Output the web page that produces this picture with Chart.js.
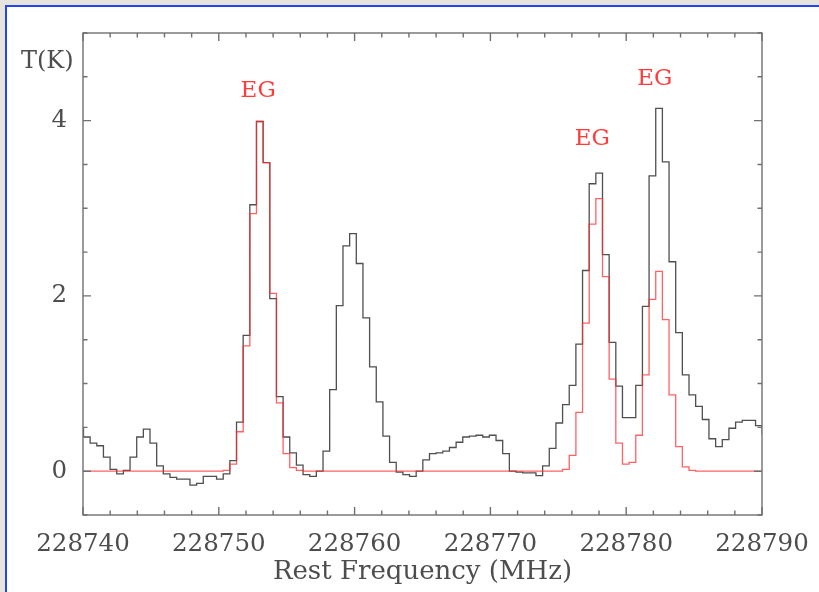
<!DOCTYPE html>
<html>
<head>
<meta charset="utf-8">
<script src="https://cdn.jsdelivr.net/npm/chart.js@4/dist/chart.umd.min.js"></script>
<style>
  html, body { margin: 0; padding: 0; width: 819px; height: 592px; overflow: hidden; background: #e7e3dd; }
  #panel { position: absolute; left: 5px; top: 5px; width: 900px; height: 700px; border: 2px solid #2645f2; background: #ffffff; }
  #wrap { position: absolute; left: 0; top: 0; width: 819px; height: 592px; }
</style>
</head>
<body>
<div id="panel"></div>
<div id="wrap"><canvas id="c" width="819" height="592"></canvas></div>
<script>
// Channel centre frequencies (MHz)
const channelFreq = [
  228739.79, 228740.28, 228740.77, 228741.26, 228741.75, 228742.24, 228742.73, 228743.22, 228743.71, 228744.20,
  228744.69, 228745.18, 228745.67, 228746.16, 228746.65, 228747.14, 228747.63, 228748.12, 228748.61, 228749.10,
  228749.59, 228750.08, 228750.57, 228751.06, 228751.55, 228752.04, 228752.53, 228753.02, 228753.51, 228754.00,
  228754.49, 228754.98, 228755.47, 228755.96, 228756.45, 228756.94, 228757.43, 228757.92, 228758.41, 228758.90,
  228759.39, 228759.88, 228760.37, 228760.86, 228761.35, 228761.84, 228762.33, 228762.82, 228763.31, 228763.80,
  228764.29, 228764.78, 228765.27, 228765.76, 228766.25, 228766.74, 228767.23, 228767.72, 228768.21, 228768.70,
  228769.19, 228769.68, 228770.17, 228770.66, 228771.15, 228771.64, 228772.13, 228772.62, 228773.11, 228773.60,
  228774.09, 228774.58, 228775.07, 228775.56, 228776.05, 228776.54, 228777.03, 228777.52, 228778.01, 228778.50,
  228778.99, 228779.48, 228779.97, 228780.46, 228780.95, 228781.44, 228781.93, 228782.42, 228782.91, 228783.40,
  228783.89, 228784.38, 228784.87, 228785.36, 228785.85, 228786.34, 228786.83, 228787.32, 228787.81, 228788.30,
  228788.79, 228789.28, 228789.77, 228790.26
];

// Observed spectrum T (K)
const observedT = [
  0.49, 0.39, 0.32, 0.29, 0.16, 0.02, -0.03, 0.01, 0.16, 0.39,
  0.48, 0.32, 0.06, -0.03, -0.07, -0.09, -0.09, -0.16, -0.14, -0.06,
  -0.06, -0.09, -0.03, 0.12, 0.56, 1.55, 3.04, 3.99, 3.52, 1.97,
  0.85, 0.39, 0.21, 0.07, -0.04, -0.06, 0.00, 0.23, 0.93, 1.89,
  2.57, 2.71, 2.37, 1.75, 1.19, 0.79, 0.40, 0.10, -0.01, -0.04,
  -0.06, 0.00, 0.13, 0.20, 0.21, 0.23, 0.27, 0.33, 0.39, 0.40,
  0.41, 0.39, 0.41, 0.35, 0.20, 0.00, -0.01, -0.02, -0.02, -0.05,
  0.06, 0.26, 0.55, 0.76, 0.98, 1.45, 2.29, 3.28, 3.40, 2.47,
  1.47, 0.97, 0.61, 0.61, 0.98, 1.88, 3.37, 4.14, 3.53, 2.39,
  1.58, 1.10, 0.87, 0.74, 0.59, 0.37, 0.28, 0.36, 0.49, 0.56,
  0.58, 0.58, 0.52, 0.43
];

// Model spectrum (EG) T (K)
const modelT = [
  0.00, 0.00, 0.00, 0.00, 0.00, 0.00, 0.00, 0.00, 0.00, 0.00,
  0.00, 0.00, 0.00, 0.00, 0.00, 0.00, 0.00, 0.00, 0.00, 0.00,
  0.00, 0.00, 0.01, 0.08, 0.45, 1.43, 2.94, 3.99, 3.52, 2.03,
  0.78, 0.20, 0.04, 0.01, 0.00, 0.00, 0.00, 0.00, 0.00, 0.00,
  0.00, 0.00, 0.00, 0.00, 0.00, 0.00, 0.00, 0.00, 0.00, 0.00,
  0.00, 0.00, 0.00, 0.00, 0.00, 0.00, 0.00, 0.00, 0.00, 0.00,
  0.00, 0.00, 0.00, 0.00, 0.00, 0.00, 0.00, 0.00, 0.00, 0.00,
  0.00, 0.00, 0.00, 0.02, 0.18, 0.67, 1.69, 2.82, 3.11, 2.22,
  1.05, 0.32, 0.08, 0.10, 0.41, 1.10, 1.96, 2.28, 1.73, 0.87,
  0.28, 0.05, 0.01, 0.00, 0.00, 0.00, 0.00, 0.00, 0.00, 0.00,
  0.00, 0.00, 0.00, 0.00
];

// Line labels
const lineLabels = ["EG", "EG", "EG"];
const lineLabelFreq = [228752.9, 228777.5, 228782.1];
const lineLabelT = [4.34, 3.79, 4.48];

// Axis tick labels
const xTickLabels = [228740, 228750, 228760, 228770, 228780, 228790];
const yTickLabels = [0, 2, 4];

const serif = '"DejaVu Serif", "Liberation Serif", serif';
const textColor = '#4d4d4d';

const framePlugin = {
  id: 'framePlugin',
  afterDraw(chart) {
    const ctx = chart.ctx;
    const xs = chart.scales.x, ys = chart.scales.y;
    const a = chart.chartArea;
    ctx.save();
    ctx.strokeStyle = '#707070';
    ctx.lineWidth = 1.4;
    ctx.strokeRect(a.left, a.top, a.right - a.left, a.bottom - a.top);
    ctx.beginPath();
    for (let v = 228740; v <= 228790; v += 2) {
      const px = xs.getPixelForValue(v);
      const len = xTickLabels.includes(v) ? 8 : 4.5;
      ctx.moveTo(px, a.bottom); ctx.lineTo(px, a.bottom - len);
      ctx.moveTo(px, a.top); ctx.lineTo(px, a.top + len);
    }
    for (let i = -1; i <= 10; i++) {
      const v = i * 0.5;
      const py = ys.getPixelForValue(v);
      const len = yTickLabels.includes(v) ? 8 : 4.5;
      ctx.moveTo(a.left, py); ctx.lineTo(a.left + len, py);
      ctx.moveTo(a.right, py); ctx.lineTo(a.right - len, py);
    }
    ctx.stroke();

    ctx.fillStyle = '#ff3b3b';
    ctx.font = '23px ' + serif;
    ctx.textAlign = 'center';
    ctx.textBaseline = 'middle';
    for (let i = 0; i < lineLabels.length; i++) {
      ctx.fillText(lineLabels[i], xs.getPixelForValue(lineLabelFreq[i]), ys.getPixelForValue(lineLabelT[i]));
    }

    ctx.fillStyle = textColor;
    ctx.font = '24px ' + serif;
    ctx.textAlign = 'left';
    ctx.fillText('T(K)', 21, 62);
    ctx.restore();
  }
};

const points = (arr) => channelFreq.map((f, i) => ({ x: f, y: arr[i] }));

new Chart(document.getElementById('c'), {
  type: 'line',
  data: {
    datasets: [
      {
        label: 'Model EG',
        data: points(modelT),
        borderColor: 'rgba(255, 45, 45, 0.75)',
        borderWidth: 1.3,
        stepped: 'middle',
        pointRadius: 0,
        fill: false,
        order: 0
      },
      {
        label: 'Observed',
        data: points(observedT),
        borderColor: 'rgba(40, 40, 40, 0.82)',
        borderWidth: 1.3,
        stepped: 'middle',
        pointRadius: 0,
        fill: false,
        order: 1
      }
    ]
  },
  options: {
    responsive: false,
    animation: false,
    devicePixelRatio: 1,
    layout: { padding: { top: 33, right: 57, left: 0, bottom: 0 } },
    plugins: { legend: { display: false }, tooltip: { enabled: false } },
    scales: {
      x: {
        type: 'linear',
        min: 228740,
        max: 228790,
        grid: { display: false, drawTicks: false },
        border: { display: false },
        ticks: {
          stepSize: 10,
          autoSkip: false,
          maxRotation: 0,
          padding: 15,
          color: textColor,
          font: { family: serif, size: 24.5 },
          callback: (v) => xTickLabels.includes(v) ? String(v) : ''
        },
        title: {
          display: true,
          text: 'Rest Frequency (MHz)',
          color: textColor,
          font: { family: serif, size: 26 },
          padding: { top: 0, bottom: 4 }
        },
        afterFit: (s) => { s.height = 77; s.paddingLeft = 0; s.paddingRight = 0; }
      },
      y: {
        type: 'linear',
        min: -0.5,
        max: 5,
        grid: { display: false, drawTicks: false },
        border: { display: false },
        ticks: {
          stepSize: 0.5,
          autoSkip: false,
          padding: 16,
          color: textColor,
          font: { family: serif, size: 24.5 },
          callback: (v) => yTickLabels.includes(v) ? String(v) : ''
        },
        afterFit: (s) => { s.width = 83; s.paddingTop = 0; s.paddingBottom = 0; }
      }
    }
  },
  plugins: [framePlugin]
});
</script>
</body>
</html>
